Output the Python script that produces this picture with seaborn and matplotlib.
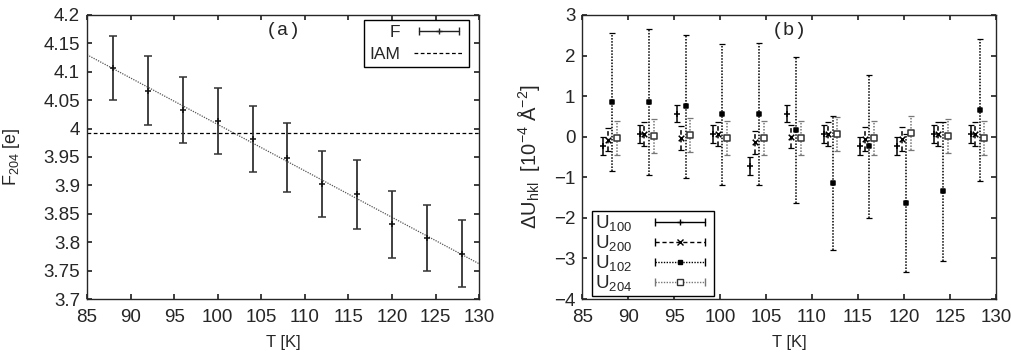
import numpy as np
import pandas as pd
import matplotlib
matplotlib.use("Agg")
import matplotlib.pyplot as plt
import seaborn as sns
from matplotlib.lines import Line2D
from matplotlib.legend_handler import HandlerLine2D, HandlerTuple

# ---------------- data ----------------
T = [88, 92, 96, 100, 104, 108, 112, 116, 120, 124, 128]

F204 = [4.107, 4.067, 4.033, 4.014, 3.982, 3.949, 3.902, 3.884, 3.832, 3.808, 3.780]
F204_err = [0.056, 0.061, 0.058, 0.058, 0.058, 0.061, 0.058, 0.061, 0.059, 0.058, 0.059]
fit_T = [85, 130]
fit_F = [4.130, 3.762]
IAM = 3.993

U100 = [-0.23, 0.07, 0.57, 0.07, -0.73, 0.57, 0.07, -0.23, -0.23, 0.07, 0.07]
U100_err = [0.22] * 11
U200 = [-0.07, 0.07, -0.03, 0.07, -0.14, 0.00, 0.07, -0.05, -0.05, 0.07, 0.07]
U200_err = [0.29] * 11
U102 = [0.85, 0.85, 0.75, 0.55, 0.55, 0.16, -1.15, -0.24, -1.64, -1.35, 0.65]
U102_err = [1.70, 1.80, 1.76, 1.73, 1.75, 1.80, 1.65, 1.76, 1.70, 1.72, 1.75]
U204 = [-0.04, 0.02, 0.04, -0.04, -0.04, -0.03, 0.07, -0.04, 0.09, 0.02, -0.04]
U204_err = [0.42] * 11

series_labels = ["U$_{100}$", "U$_{200}$", "U$_{102}$", "U$_{204}$"]
x_ticks = [85, 90, 95, 100, 105, 110, 115, 120, 125, 130]
ya_ticks = [3.7, 3.75, 3.8, 3.85, 3.9, 3.95, 4.0, 4.05, 4.1, 4.15, 4.2]
yb_ticks = [-4, -3, -2, -1, 0, 1, 2, 3]

# ---------------- style ----------------
sns.set_theme(style="ticks")
plt.rcParams["font.family"] = ["Liberation Sans", "DejaVu Sans"]
plt.rcParams["mathtext.default"] = "regular"
plt.rcParams["font.size"] = 13
plt.rcParams["axes.linewidth"] = 1.0
plt.rcParams["xtick.direction"] = "in"
plt.rcParams["ytick.direction"] = "in"
plt.rcParams["xtick.top"] = True
plt.rcParams["ytick.right"] = True
plt.rcParams["xtick.major.size"] = 3.6
plt.rcParams["ytick.major.size"] = 3.6
plt.rcParams["xtick.major.pad"] = 7
plt.rcParams["ytick.major.pad"] = 5
plt.rcParams["xtick.labelsize"] = 13.5
plt.rcParams["ytick.labelsize"] = 13.5

fig = plt.figure(figsize=(10.11, 3.56), dpi=100)
axa = fig.add_axes([0.086, 0.160, 0.388, 0.798])
axb = fig.add_axes([0.576, 0.160, 0.409, 0.798])

# ---------------- panel (a) ----------------
fit_df = pd.DataFrame({"T": fit_T, "F": fit_F})
sns.lineplot(data=fit_df, x="T", y="F", ax=axa, color="#555555",
             linestyle=(0, (1, 1)), linewidth=0.9, legend=False)
axa.axhline(IAM, color="black", linestyle=(0, (3, 2)), linewidth=0.9)
axa.errorbar(T, F204, yerr=F204_err, fmt="+", color="#111111", ecolor="#333333",
             elinewidth=1.3, capsize=2.8, capthick=1.1, markersize=4.5, mew=1.1)

axa.set_xlim(85, 130)
axa.set_ylim(3.7, 4.2)
axa.set_xticks(x_ticks)
axa.set_yticks(ya_ticks)
axa.set_yticklabels([f"{v:g}" for v in ya_ticks])
axa.set_xlabel("T [K]", fontsize=12)
axa.set_ylabel("F$_{204}$ [e]", fontsize=13)
axa.xaxis.set_label_coords(0.5, -0.125)
axa.yaxis.set_label_coords(-0.166, 0.5)
axa.text(0.5, 0.945, "(a)", transform=axa.transAxes, ha="center", va="center",
         fontsize=14, family=["Liberation Mono", "DejaVu Sans Mono"])

# legend (a)
f_caps = Line2D([], [], color="#222222", linestyle="-", linewidth=1.0,
                marker="|", markersize=6, mew=1.0)
f_mid = Line2D([], [], color="#222222", linestyle="none", marker="+",
               markersize=4, mew=1.0)
iam_h = Line2D([], [], color="black", linestyle=(0, (3, 2)), linewidth=0.9)
hmap = {f_caps: HandlerLine2D(numpoints=2), f_mid: HandlerLine2D(numpoints=1),
        tuple: HandlerTuple(ndivide=1, pad=0)}
leg = axa.legend([(f_caps, f_mid), iam_h], ["F", "IAM"], handler_map=hmap,
                 loc="upper right", bbox_to_anchor=(0.975, 0.983), borderaxespad=0,
                 markerfirst=False, fancybox=False, framealpha=1, edgecolor="black",
                 handlelength=2.9, fontsize=12.5, borderpad=0.3, labelspacing=0.4,
                 handletextpad=0.8)
leg.get_frame().set_linewidth(1.0)

# ---------------- panel (b) ----------------
offsets = [-0.75, -0.25, 0.25, 0.75]
vals = [U100, U200, U102, U204]
errs = [U100_err, U200_err, U102_err, U204_err]
styles = [
    dict(marker="+", ls="-", color="black", mfc="black", ms=4.5),
    dict(marker="x", ls=(0, (3, 2)), color="black", mfc="black", ms=4),
    dict(marker="s", ls=(0, (1, 1)), color="black", mfc="black", ms=3.3),
    dict(marker="s", ls=(0, (1, 1)), color="#777777", mfc="white", ms=4.5),
]
handles = []
for v, e, off, st in zip(vals, errs, offsets, styles):
    xs = [t + off for t in T]
    eb = axb.errorbar(xs, v, yerr=e, fmt="none", ecolor=st["color"],
                      elinewidth=1.1, capsize=2.2, capthick=0.9)
    eb[2][0].set_linestyle(st["ls"])
    mcol = "#333333" if st["mfc"] == "white" else st["color"]
    pts = pd.DataFrame({"x": xs, "y": v})
    fillc = "black" if st["marker"] in ("x", "+") else st["mfc"]
    sns.scatterplot(data=pts, x="x", y="y", ax=axb, marker=st["marker"],
                    s=st["ms"] ** 2, color=fillc, edgecolor=mcol,
                    linewidth=1.1, legend=False, zorder=3)
    caps = Line2D([], [], color=st["color"], linestyle=st["ls"], linewidth=1.0,
                  marker="|", markersize=6, mew=1.0)
    mid = Line2D([], [], color=mcol, linestyle="none", marker=st["marker"],
                 markersize=st["ms"], mfc=st["mfc"], mec=mcol, mew=1.0)
    handles.append((caps, mid))
    hmap[caps] = HandlerLine2D(numpoints=2)
    hmap[mid] = HandlerLine2D(numpoints=1)

axb.set_xlim(85, 130)
axb.set_ylim(-4, 3)
axb.set_xticks(x_ticks)
axb.set_yticks(yb_ticks)
axb.set_xlabel("T [K]", fontsize=12)
axb.set_ylabel("ΔU$_{hkl}$  [10$^{-4}$ Å$^{-2}$]", fontsize=14.5)
axb.xaxis.set_label_coords(0.5, -0.125)
axb.yaxis.set_label_coords(-0.097, 0.5)
axb.text(0.5, 0.945, "(b)", transform=axb.transAxes, ha="center", va="center",
         fontsize=14, family=["Liberation Mono", "DejaVu Sans Mono"])
legb = axb.legend(handles, series_labels, handler_map=hmap,
                  loc="lower left", bbox_to_anchor=(0.024, 0.01), borderaxespad=0,
                  markerfirst=False, fancybox=False, framealpha=1, edgecolor="black",
                  handlelength=3.3, fontsize=13.5, borderpad=0.15, labelspacing=0.0,
                  handletextpad=0.9)
legb.get_frame().set_linewidth(1.0)

fig.savefig("out.png", dpi=100)
